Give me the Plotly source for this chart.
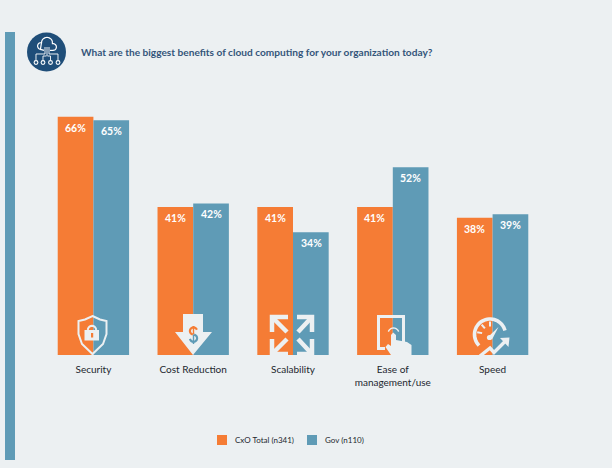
import math
import plotly.graph_objects as go

categories = ["Security", "Cost Reduction", "Scalability", "Ease of<br>management/use", "Speed"]
cxo_total = [66, 41, 41, 41, 38]
gov = [65, 42, 34, 52, 39]
series_names = ["CxO Total (n341)", "Gov (n110)"]
title_text = "What are the biggest benefits of cloud computing for your organization today?"

W, H = 612, 468
BG = "#ECF0F2"
ORANGE = "#F57C35"
BLUE = "#5F9BB6"
NAVY = "#1F4E79"
TEXT = "#23272E"
FONT = "Lato"


def X(v):
    return v / W


def Y(v):
    return 1 - v / H


def pt(p):
    return f"{X(p[0]):.5f},{Y(p[1]):.5f}"


def poly(points, close=False):
    s = "M" + pt(points[0])
    for p in points[1:]:
        s += " L" + pt(p)
    return s + (" Z" if close else "")


def arc(cx, cy, r, a0, a1, n=24):
    return [(cx + r * math.cos(math.radians(a0 + (a1 - a0) * i / n)),
             cy - r * math.sin(math.radians(a0 + (a1 - a0) * i / n))) for i in range(n + 1)]


shapes = []
NONE = "rgba(0,0,0,0)"


def add(path, fill=None, line=None, w=0):
    shapes.append(dict(type="path", xref="paper", yref="paper", path=path, layer="above",
                       fillcolor=fill or NONE, line=dict(color=line or NONE, width=w)))


def rect(x0, y0, x1, y1, fill):
    shapes.append(dict(type="rect", xref="paper", yref="paper", x0=X(x0), x1=X(x1), y0=Y(y1), y1=Y(y0),
                       fillcolor=fill, line=dict(width=0), layer="above"))


def circle(cx, cy, r, fill=None, line=None, w=0):
    shapes.append(dict(type="circle", xref="paper", yref="paper", x0=X(cx - r), x1=X(cx + r),
                       y0=Y(cy + r), y1=Y(cy - r), fillcolor=fill or NONE,
                       line=dict(color=line or NONE, width=w), layer="above"))


# left rule
rect(5, 32, 15, 460, BLUE)

# header logo
circle(46.5, 52, 19.5, fill=NAVY)
W1 = "#FFFFFF"
add(poly(arc(41, 46, 3.4, 70, 260, 10) + arc(47, 43, 5.6, 160, 20, 12) + arc(53, 47, 3.4, 100, -90, 10)),
    line=W1, w=1.2)
add(poly([(53, 50.4), (50, 50.4)]), line=W1, w=1.2)
add(poly([(44, 50.4), (40.5, 49.4)]), line=W1, w=1.2)
for a, b in [((45, 47), (45, 54)), ((47, 47), (47, 56)), ((49, 47), (49, 54))]:
    add(poly([a, b]), line=W1, w=0.9)
add(poly([(45, 54), (36, 54), (36, 60.5)]), line=W1, w=0.9)
add(poly([(46.5, 56), (43, 56), (43, 60.5)]), line=W1, w=0.9)
add(poly([(47.5, 56), (50.5, 56), (50.5, 60.5)]), line=W1, w=0.9)
add(poly([(49, 54), (58, 54), (58, 60.5)]), line=W1, w=0.9)
for cx in (36, 43, 50.5, 58):
    circle(cx, 62.5, 1.9, line=W1, w=1.1)

# security icon
add(poly([(92.5, 316), (100, 319.5), (106.5, 321), (106.5, 334), (103, 344), (92.5, 354),
          (82, 344), (78.5, 334), (78.5, 321), (85, 319.5)], True), line=BG, w=2)
add(poly(arc(92, 330, 4.2, 0, 180, 10) ), line=BG, w=2)
rect(84.5, 330, 99, 340.5, BG)
rect(91, 333, 93.2, 337.5, ORANGE)

# cost reduction icon
add(poly([(183, 314), (203, 314), (203, 332), (212, 332), (193, 355), (175, 332), (183, 332)], True), fill=BG)
add(poly(arc(193.5, 331, 3.6, 20, 260, 12)), line=ORANGE, w=2.2)
add(poly(arc(193.5, 338.2, 3.6, 80, -170, 12)), line=BLUE, w=2.2)
add(poly([(193.5, 326), (193.5, 334.5)]), line=ORANGE, w=1.4)
add(poly([(193.5, 334.5), (193.5, 344)]), line=BLUE, w=1.4)

# scalability icon
sw = 4.5
for corner, hx, vy, tip in [((272, 317), 288, 332, (287, 332)), ((312, 317), 297, 332, (298, 332)),
                            ((272, 354), 288, 339, (287, 339)), ((312, 354), 297, 339, (298, 339))]:
    add(poly([(hx, corner[1]), corner, (corner[0], vy)]), line=BG, w=sw)
    add(poly([corner, tip]), line=BG, w=sw)

# ease of use icon
add(poly([(385, 348.5), (378.5, 348.5), (378.5, 316.5), (403.5, 316.5), (403.5, 342)]), line=BG, w=3)
add(poly([(391, 355), (385.5, 347), (388, 344), (391, 346), (391, 335), (393.2, 332.5), (396, 335), (396, 340),
          (407, 342), (411.5, 345), (411.5, 355)], True), fill=BG)
add(poly(arc(393.5, 333.5, 5.5, 20, 160, 10)), line=BG, w=1.4)

# speed icon
add(poly(arc(490, 334.5, 15.5, 15, 225, 32)), line=BG, w=3.6)
for ang in (90, 130, 170):
    a = math.radians(ang)
    add(poly([(490 + 8 * math.cos(a), 334.5 - 8 * math.sin(a)), (490 + 13 * math.cos(a), 334.5 - 13 * math.sin(a))]),
        line=BG, w=2)
add(poly([(498.5, 327), (492, 339.5), (488, 337)], True), fill=BG)
circle(489.5, 337.5, 2.6, fill=BG)
add(poly([(480, 356), (490, 348), (494, 352.5), (505, 341.5)]), line=BG, w=3.4)
add(poly([(500, 338), (509.5, 337.5), (508.5, 347)], True), fill=BG)

# legend swatches
rect(217, 435, 227, 445, ORANGE)
rect(307, 435, 317, 445, BLUE)

fig = go.Figure()
for name, vals, col in [(series_names[0], cxo_total, ORANGE), (series_names[1], gov, BLUE)]:
    fig.add_bar(x=categories, y=vals, name=name, marker=dict(color=col, line=dict(width=0)), showlegend=False)

annotations = [dict(text=f"<b>{title_text}</b>", xref="paper", yref="paper", x=X(79), y=Y(52),
                    xanchor="left", yanchor="middle", showarrow=False,
                    font=dict(family=FONT, size=10.15, color="#34557A"))]
for vals, shift in [(cxo_total, -18), (gov, 18)]:
    for c, v in zip(categories, vals):
        annotations.append(dict(text=f"<b>{v}%</b>", x=c, y=v, xref="x", yref="y", xshift=shift, yshift=-11,
                                showarrow=False, xanchor="center", yanchor="middle",
                                font=dict(family=FONT, size=10.5, color="#FFFFFF")))
for name, lx in zip(series_names, (233, 323)):
    annotations.append(dict(text=name, xref="paper", yref="paper", x=X(lx), y=Y(440), xanchor="left",
                            yanchor="middle", showarrow=False, font=dict(family=FONT, size=8, color=TEXT)))

fig.update_layout(
    width=W, height=H, autosize=False,
    margin=dict(l=0, r=0, t=0, b=0),
    paper_bgcolor=BG, plot_bgcolor=BG,
    barmode="group", bargap=0.285, bargroupgap=0,
    font=dict(family=FONT, color=TEXT, size=10),
    showlegend=False,
    shapes=shapes,
    annotations=annotations,
    xaxis=dict(domain=[43.5 / W, 542.5 / W], showgrid=False, showline=False, ticks="",
               tickfont=dict(size=10, color=TEXT), tickangle=0, automargin=False, ticklabelstandoff=7),
    yaxis=dict(domain=[Y(355), Y(102.3)], range=[0, 70], visible=False, showgrid=False, zeroline=False),
)
fig.write_html("out.html", config=dict(displayModeBar=False),
               post_script="document.body.style.margin='0';document.body.style.overflow='hidden';")
